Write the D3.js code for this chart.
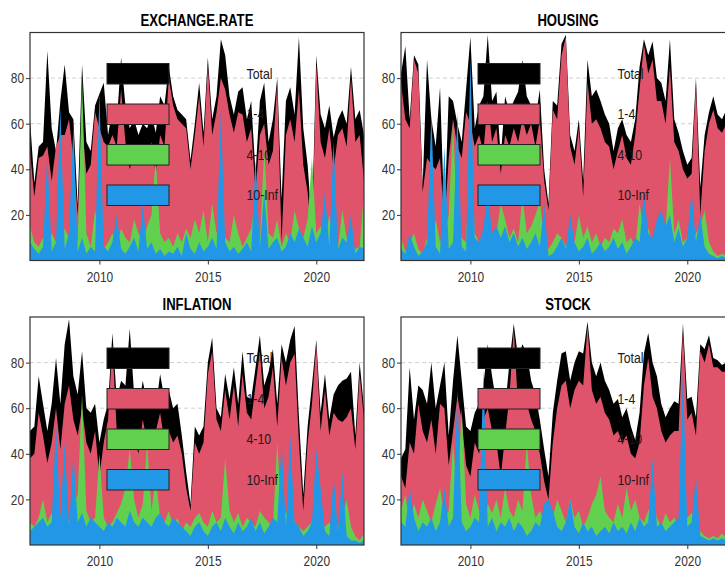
<!DOCTYPE html>
<html>
<head>
<meta charset="utf-8">
<script src="https://cdn.jsdelivr.net/npm/d3@7"></script>
<style>
  html, body { margin: 0; padding: 0; background: #fff; }
  svg { display: block; font-family: "Liberation Sans Narrow", "Arial Narrow", "Liberation Sans", Arial, sans-serif; }
</style>
</head>
<body>
<div id="chart"></div>
<script>
const seriesNames = ["Total", "1-4", "4-10", "10-Inf"];
const seriesColors = ["#000000", "#DF536B", "#61D04F", "#2297E6"];
const panelTitles = ["EXCHANGE.RATE", "HOUSING", "INFLATION", "STOCK"];
const startYear = 2006.8;
const stepYear = 0.2;
const yTicks = [20, 40, 60, 80];
const xTicks = [2010, 2015, 2020];

const exchangeTotal = [62,34,50,52,92,58,48,70,86,65, 62,24,86,52,48,68,73,78,55,66, 60,89,68,58,62,55,60,58,64,56, 72,68,85,72,66,64,62,44,60,78, 56,89,62,72,97,90,72,64,74,76, 62,70,38,70,78,52,62,80,27,70, 76,64,98,58,42,15,90,64,58,68, 54,62,66,60,85,62,66,55];
const exchange14 = [48,28,45,46,50,35,50,55,55,62, 45,20,60,38,42,65,58,52,50,55, 50,75,52,40,48,45,50,42,52,38, 55,50,80,68,62,60,58,40,55,72, 50,86,55,65,80,75,64,56,65,64, 52,58,30,55,60,42,48,78,8,55, 62,52,75,42,30,8,86,52,45,58, 40,55,58,50,80,52,55,35];
const exchange410 = [15,8,6,10,5,12,8,6,14,10, 20,8,80,12,6,22,10,5,8,12, 6,14,10,8,18,12,8,15,20,45, 12,8,10,6,12,8,14,10,18,12, 22,8,25,12,18,10,8,20,12,6, 10,14,28,8,50,12,10,18,6,12, 8,22,14,10,18,45,12,15,8,20, 10,6,22,10,8,5,6,30];
const exchange10Inf = [8,5,3,6,46,4,8,67,5,12, 59,4,10,3,6,4,73,6,4,8, 20,5,3,6,10,4,25,5,8,3, 5,2,4,3,6,2,12,5,3,8, 4,6,10,5,66,8,4,6,3,5, 8,4,44,6,30,5,8,10,4,6, 12,8,14,10,6,15,8,12,30,6, 52,5,10,8,20,3,6,5];

const housingTotal = [82,94,62,90,86,33,88,62,50,76, 18,72,70,60,52,75,98,58,68,72, 99,70,74,45,72,65,70,74,88,72, 68,62,75,40,25,70,68,95,99,55, 48,62,35,88,72,75,70,64,60,48, 58,62,55,52,62,85,97,90,96,80, 78,70,97,62,56,48,42,45,80,32, 55,65,72,64,62,66,60,58];
const housing14 = [78,62,58,88,82,30,45,42,40,45, 15,45,62,50,45,65,60,50,55,48, 70,52,58,38,55,50,58,52,62,55, 60,50,62,35,22,66,62,90,98,50, 42,58,28,78,60,62,58,52,50,40, 48,55,45,42,55,75,95,82,88,70, 70,60,85,52,48,40,36,38,78,20, 48,60,66,58,56,60,55,50];
const housing410 = [10,4,8,12,5,3,10,6,18,8, 12,20,60,15,10,8,55,12,8,6, 15,10,12,25,18,10,14,8,28,12, 15,20,26,10,5,8,12,10,6,14, 8,20,10,15,8,12,6,10,8,14, 12,18,8,10,6,25,12,14,8,10, 20,14,45,12,18,8,10,6,12,15, 22,8,4,2,3,2,4,3];
const housing10Inf = [5,3,12,6,2,4,8,64,6,3, 50,5,8,65,6,4,88,10,8,14, 30,12,15,10,15,8,12,6,10,5, 8,12,6,25,2,3,6,10,5,20, 8,4,6,10,3,5,8,4,6,10, 5,8,3,6,10,8,30,12,10,18, 22,15,20,8,14,6,10,30,8,20, 6,3,2,1,2,1,2,1];

const inflationTotal = [50,52,74,62,50,62,82,62,88,99, 74,66,85,60,58,62,45,55,62,93, 64,72,70,95,66,60,72,62,68,60, 75,64,68,60,62,48,32,18,52,48, 52,80,91,60,56,75,64,78,62,85, 65,64,78,92,70,76,86,62,88,80, 90,96,56,22,52,70,90,58,75,55, 66,70,72,73,76,48,80,60];
const inflation14 = [38,40,58,48,36,45,60,42,62,70, 55,48,60,45,40,50,30,45,55,88, 50,45,50,42,48,40,55,45,48,50, 58,45,50,45,48,40,25,15,45,40, 45,75,85,55,50,68,55,70,52,75, 58,55,70,85,60,65,78,52,82,70, 80,84,45,15,45,62,88,50,68,48, 58,55,54,56,60,42,75,55];
const inflation410 = [10,8,12,20,10,14,8,12,15,10, 18,22,66,15,10,12,40,12,8,10, 14,18,25,42,20,12,18,45,15,30, 12,10,15,8,12,6,10,8,12,14, 10,8,15,10,12,38,15,10,14,8, 12,10,8,15,12,10,8,45,12,14, 20,10,8,6,8,10,6,12,8,10, 6,8,12,20,8,4,2,5];
const inflation10Inf = [6,8,10,12,8,10,53,12,45,8, 40,10,14,8,12,10,8,6,10,8, 12,10,8,15,10,8,12,10,8,12, 14,10,8,12,10,8,6,4,8,10, 6,4,8,10,6,12,8,5,10,6, 8,12,6,10,5,8,12,10,45,8, 48,10,8,4,6,10,42,25,6,4, 30,6,32,4,2,2,1,2];

const stockTotal = [38,42,78,55,70,68,62,80,60,70, 80,48,72,92,72,52,50,58,62,70, 88,74,62,66,60,80,97,82,88,84, 72,66,55,42,30,58,72,84,85,72, 80,85,84,98,80,74,80,72,68,62, 64,56,60,52,46,58,84,93,80,74, 62,56,60,63,62,97,64,65,56,88, 86,92,82,81,79,80,78,75];
const stock14 = [30,25,45,40,62,50,45,55,40,62, 60,35,50,65,55,35,30,45,40,55, 60,50,45,30,48,65,95,60,68,62, 55,50,40,28,20,45,60,70,72,60, 68,72,70,96,68,62,65,58,55,48, 50,45,48,40,38,45,70,82,65,60, 50,45,48,50,50,94,55,58,48,85, 80,88,78,78,76,76,74,70];
const stock410 = [15,22,10,18,12,20,15,10,18,25, 12,15,45,20,60,18,12,22,15,10, 18,14,20,12,25,15,12,20,15,45, 22,12,15,10,8,12,20,15,10,20, 12,15,8,12,18,22,30,15,12,10, 18,12,25,15,20,12,10,15,20,12, 8,14,10,12,8,10,12,14,10,6, 4,3,4,3,5,3,4,3];
const stock10Inf = [10,8,25,12,6,10,8,12,6,10, 25,8,12,68,10,6,8,12,10,77, 8,12,6,10,8,12,6,10,8,4, 6,10,8,18,20,15,8,6,10,20, 8,5,10,6,8,4,6,8,5,10, 6,8,5,10,6,12,8,10,38,8, 10,6,8,10,12,77,8,10,30,4, 3,2,3,2,3,2,3,2];

const panels = [
  { title: panelTitles[0], series: [exchangeTotal, exchange14, exchange410, exchange10Inf] },
  { title: panelTitles[1], series: [housingTotal, housing14, housing410, housing10Inf] },
  { title: panelTitles[2], series: [inflationTotal, inflation14, inflation410, inflation10Inf] },
  { title: panelTitles[3], series: [stockTotal, stock14, stock410, stock10Inf] },
];

const W = 725, H = 569;
const pw = 334, ph = 228;
const origins = [{ x: 30, y: 32.5 }, { x: 401, y: 32.5 }, { x: 30, y: 317 }, { x: 401, y: 317 }];

const svg = d3.select("#chart").append("svg").attr("width", W).attr("height", H);
svg.append("rect").attr("width", W).attr("height", H).attr("fill", "#fff");

panels.forEach((p, k) => drawPanel(p, origins[k]));

// no narrow face is installed, so squeeze the regular one to look like Arial Narrow
function narrow(sel) {
  sel.each(function () {
    const len = this.getComputedTextLength();
    this.setAttribute("textLength", (len * 0.82).toFixed(1));
    this.setAttribute("lengthAdjust", "spacingAndGlyphs");
  });
}

function drawPanel(p, o) {
  const g = svg.append("g").attr("transform", `translate(${o.x},${o.y})`);
  const n = p.series[0].length;
  const x = d3.scaleLinear().domain([startYear, startYear + stepYear * (n - 1)]).range([0, pw]);
  const y = d3.scaleLinear().domain([0, 100]).range([ph, 0]);

  g.selectAll(".grid")
    .data(yTicks)
    .enter()
    .append("line")
    .attr("x1", 0).attr("x2", pw)
    .attr("y1", (d) => y(d)).attr("y2", (d) => y(d))
    .attr("stroke", "#cfcfcf").attr("stroke-dasharray", "4 3");

  const area = d3.area()
    .x((d, i) => x(startYear + i * stepYear))
    .y0(y(0))
    .y1((d) => y(d));

  g.selectAll(".band")
    .data(p.series)
    .enter()
    .append("path")
    .attr("d", area)
    .attr("fill", (d, i) => seriesColors[i]);

  // legend, as drawn by the original: boxes on the left, labels far to the right
  const leg = g.append("g").attr("transform", "translate(77,41)");
  leg.selectAll("text")
    .data(seriesNames)
    .enter()
    .append("text")
    .attr("x", 139.5).attr("y", (d, i) => i * 40.5)
    .attr("dy", "0.35em")
    .attr("font-size", 15)
    .attr("fill", "#1a1a1a")
    .text((d) => d)
    .call(narrow);
  leg.selectAll("rect")
    .data(seriesNames)
    .enter()
    .append("rect")
    .attr("x", 0).attr("y", (d, i) => i * 40.5 - 10)
    .attr("width", 62).attr("height", 20.5)
    .attr("fill", (d, i) => seriesColors[i])
    .attr("stroke", "#222").attr("stroke-width", 1);

  const xAxis = g.append("g")
    .attr("transform", `translate(0,${ph})`)
    .call(d3.axisBottom(x).tickValues(xTicks).tickFormat(d3.format("d")).tickSize(4).tickPadding(7).tickSizeOuter(0));
  const yAxis = g.append("g")
    .call(d3.axisLeft(y).tickValues(yTicks).tickSize(4).tickPadding(2).tickSizeOuter(0));
  [xAxis, yAxis].forEach((a) => {
    a.select(".domain").remove();
    a.selectAll("line").attr("stroke", "#333");
    a.selectAll("text").attr("fill", "#333").attr("font-size", 14.5).attr("font-family", null).call(narrow);
  });

  g.append("rect")
    .attr("width", pw).attr("height", ph)
    .attr("fill", "none").attr("stroke", "#333").attr("stroke-width", 1.2);

  g.append("text")
    .attr("x", pw / 2).attr("y", -7)
    .attr("text-anchor", "middle")
    .attr("font-size", 16).attr("font-weight", "bold")
    .attr("fill", "#000")
    .text(p.title)
    .call(narrow);
}
</script>
</body>
</html>
